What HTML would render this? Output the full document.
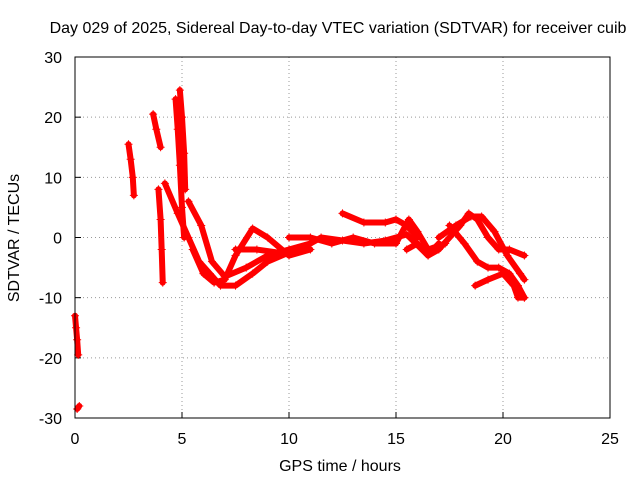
<!DOCTYPE html>
<html><head><meta charset="utf-8"><style>
body{margin:0;background:#fff}
svg text{font-family:"Liberation Sans",sans-serif;font-size:16px;fill:#000}
</style></head><body>
<svg id="c" width="640" height="480">
<text x="338" y="33" text-anchor="middle">Day 029 of 2025, Sidereal Day-to-day VTEC variation (SDTVAR) for receiver cuib</text>
<text x="340" y="471" text-anchor="middle">GPS time / hours</text>
<text transform="translate(19,238) rotate(-90)" text-anchor="middle">SDTVAR / TECUs</text>
<g id="grid"></g><g id="marks"></g>
<rect x="75" y="57" width="535" height="361" fill="none" stroke="#000"/>
</svg>
<script>
const xTicks=[0,5,10,15,20,25];
const yTicks=[-30,-20,-10,0,10,20,30];
const series=[
[[0,-13],[0.05,-15],[0.1,-17],[0.15,-19.5]],
[[0.1,-28.5],[0.2,-28]],
[[2.5,15.5],[2.6,13],[2.7,10],[2.75,7]],
[[3.65,20.5],[3.8,18],[4.0,15]],
[[3.9,8],[4.0,3],[4.05,-2],[4.1,-7.5]],
[[4.7,23],[4.8,18],[4.9,12],[5.0,5],[5.1,0]],
[[4.9,24.5],[5.0,20],[5.1,14],[5.15,8]],
[[4.2,9],[4.8,4],[5.3,0],[5.8,-4],[6.3,-6],[6.8,-8],[7.5,-8],[8.3,-6],[9,-4],[10,-2.5]],
[[5.3,6],[5.9,2],[6.4,-4],[7,-6.5],[8,-5],[9,-3],[10,-2],[11,-1]],
[[5.5,-2],[6,-6],[6.5,-7.5],[7,-7],[7.5,-3],[8.3,1.5],[9,0],[10,-3],[11,-2]],
[[7.5,-2],[8.5,-2],[9.5,-2.5],[10.5,-2],[11.5,0],[12.5,-0.5],[13.5,-1],[14.5,-0.5],[15.5,0.5],[16.5,-3],[17,-1]],
[[10,0],[11,0],[12,-1],[13,0],[14,-1],[15,-1],[15.6,3],[16,1],[16.5,-2],[17.3,-1]],
[[12.5,4],[13.5,2.5],[14.5,2.5],[15,3],[15.5,2],[16,0]],
[[15.5,-2],[16,-1],[16.5,-3],[17,-2],[17.5,0],[18,2],[18.4,4],[18.8,3],[19.3,0],[19.8,-2],[20.3,-2],[21,-3]],
[[17,0],[17.8,2],[18.5,3.5],[19,3.5],[19.6,1],[20.2,-3],[20.8,-6],[21,-7]],
[[17.5,2],[18.2,-1],[18.8,-4],[19.3,-5],[19.8,-5],[20.3,-6],[20.7,-8],[21,-10]],
[[18.7,-8],[19.3,-7],[20,-6],[20.5,-8],[20.7,-10],[21,-10]]
];
const NS="http://www.w3.org/2000/svg";
const X=t=>75+t*535/25, Y=v=>237.5-v*361/60;
const g=document.getElementById('grid'), m=document.getElementById('marks');
function mk(tag,attrs,parent){const e=document.createElementNS(NS,tag);for(const k in attrs)e.setAttribute(k,attrs[k]);parent.appendChild(e);return e;}
xTicks.forEach(t=>{
 if(t>0&&t<25){const l=mk('line',{x1:X(t),x2:X(t),y1:57,y2:418,stroke:'#999','stroke-dasharray':'1,3'},g);
 
 }
 const k=mk('line',{x1:X(t),x2:X(t),y1:418,y2:412,stroke:'#000'},g);
 
 
 const tx=mk('text',{x:X(t),y:444,'text-anchor':'middle'},g);tx.textContent=t;
 
 
});
yTicks.forEach(v=>{
 if(v>-30&&v<30){const l=mk('line',{x1:75,x2:610,y1:Y(v),y2:Y(v),stroke:'#999','stroke-dasharray':'1,3'},g);
 
 }
 const k=mk('line',{x1:75,x2:81,y1:Y(v),y2:Y(v),stroke:'#000'},g);
 
 
 const tx=mk('text',{x:62,y:Y(v)+6,'text-anchor':'end'},g);tx.textContent=v;
 
 
});
series.forEach(s=>{
 const p=mk('polyline',{points:s.map(d=>X(d[0])+','+Y(d[1])).join(' '),fill:'none',stroke:'#f00','stroke-width':6,'stroke-linejoin':'round','stroke-linecap':'round'},m);
 
 
 s.forEach(d=>{
  const x=X(d[0]),y=Y(d[1]);
  const c=mk('path',{d:`M${x-4},${y}H${x+4}M${x},${y-4}V${y+4}`,stroke:'#f00','stroke-width':1},m);
  
  
 });
});
</script>
</body></html>
